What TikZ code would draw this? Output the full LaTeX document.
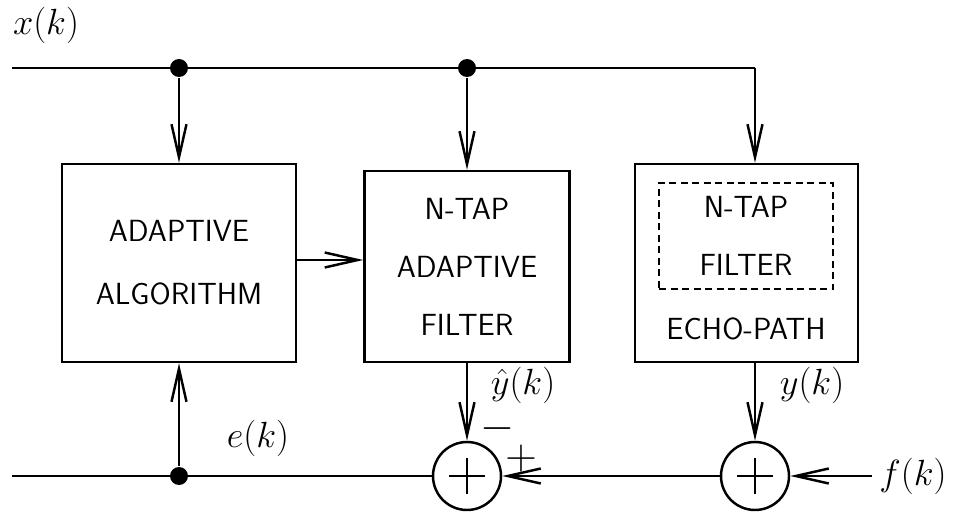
\documentclass[tikz,border=0pt]{standalone}
\usepackage{tikz}
\usetikzlibrary{arrows.meta,calc}

\begin{document}
\begin{tikzpicture}[line width=1.4pt]
        \def\txtfont{\fontsize{17.4}{33}\selectfont\sffamily}
        \def\mathfont{\fontsize{20.74}{25}\selectfont}
        \def\signfont{\fontsize{24.88}{28}\selectfont}
        \def\ytop{8.94}
        \def\ybot{0.78}

        \tikzset{
           box/.style={
              draw,
              align=center,
              inner sep=0pt,
              font=\txtfont
           },
           sumnode/.style={
              draw,
              circle,
              minimum size=1.36cm,
              inner sep=0pt,
              path picture={
                 \draw ([xshift=-0.36cm]path picture bounding box.center) -- ([xshift=0.36cm]path picture bounding box.center);
                 \draw ([yshift=-0.36cm]path picture bounding box.center) -- ([yshift=0.36cm]path picture bounding box.center);
              }
           },
           dot/.style={circle, fill, inner sep=0pt, minimum size=0.36cm},
           lbl/.style={font=\mathfont, inner sep=0pt},
           sign/.style={font=\signfont, inner sep=0pt},
           arr/.style={-{Straight Barb[length=0.66cm,width=0.3cm]}}
        }

        \useasboundingbox (0,0) rectangle (19.08,10.3);

        % Blocks
        \node[box, minimum width=4.68cm, minimum height=3.96cm,
              font=\fontsize{17.4}{35.7}\selectfont\sffamily] (alg) at (3.58,5.04) {ADAPTIVE\\ALGORITHM};
        \node[box, minimum width=4.1cm, minimum height=3.82cm] (filt) at (9.34,4.97) {N-TAP\\ADAPTIVE\\FILTER};
        \node[box, minimum width=4.46cm, minimum height=3.96cm] (echo) at (14.93,5.04) {};
        \node[box, dashed, dash pattern=on 0.14cm off 0.09cm, line width=0.8pt,
              minimum width=3.48cm, minimum height=2.12cm] (inner) at (14.92,5.58) {N-TAP\\FILTER};
        \node[font=\txtfont, inner sep=0pt] (echotext) at (14.92,3.72) {ECHO-PATH};

        % Summing points
        \node[sumnode] (s1) at (9.34,\ybot) {};
        \node[sumnode] (s2) at (15.1,\ybot) {};

        % Signal labels
        \node[lbl] (xk) at (0.92,9.8) {$x(k)$};
        \node[lbl] (ek) at (5.16,1.54) {$e(k)$};
        \node[lbl] (yhat) at (10.46,2.6) {$\hat{y}(k)$};
        \node[lbl] (yk) at (16.24,2.6) {$y(k)$};
        \node[lbl] (fk) at (18.26,\ybot) {$f(k)$};
        % signs sit on the math axis, so the node centre is set a little lower
        \node[sign] (minus) at (9.94,1.52) {$\smash{-}$};
        \node[sign] (plus) at (10.42,0.92) {$\smash{+}$};

        % Input line and taps
        \coordinate (xin) at (0.24,\ytop);
        \coordinate (tap3) at (15.1,\ytop);
        \node[dot] (tap1) at (3.58,\ytop) {};
        \node[dot] (tap2) at (9.34,\ytop) {};
        \draw (xin) -- (tap3);
        \draw[arr] (tap1) -- (tap1 |- alg.north);
        \draw[arr] (tap2) -- (tap2 |- filt.north);
        \draw[arr] (tap3) -- (tap3 |- echo.north);

        % Error line
        \coordinate (eout) at (0.24,\ybot);
        \node[dot] (etap) at (3.58,\ybot) {};
        \draw (eout) -- (s1.west);
        \draw[arr] (etap) -- (etap |- alg.south);

        % Lines
        \draw[arr] (alg.east |- 0,5.1) -- (filt.west |- 0,5.1);
        \draw[arr] (s1 |- filt.south) -- (s1.north);
        \draw[arr] (s2 |- echo.south) -- (s2.north);
        \draw[arr] (s2.west) -- (s1.east);
        \draw[arr] ([xshift=-0.12cm]fk.west) -- (s2.east);
\end{tikzpicture}
\end{document}
